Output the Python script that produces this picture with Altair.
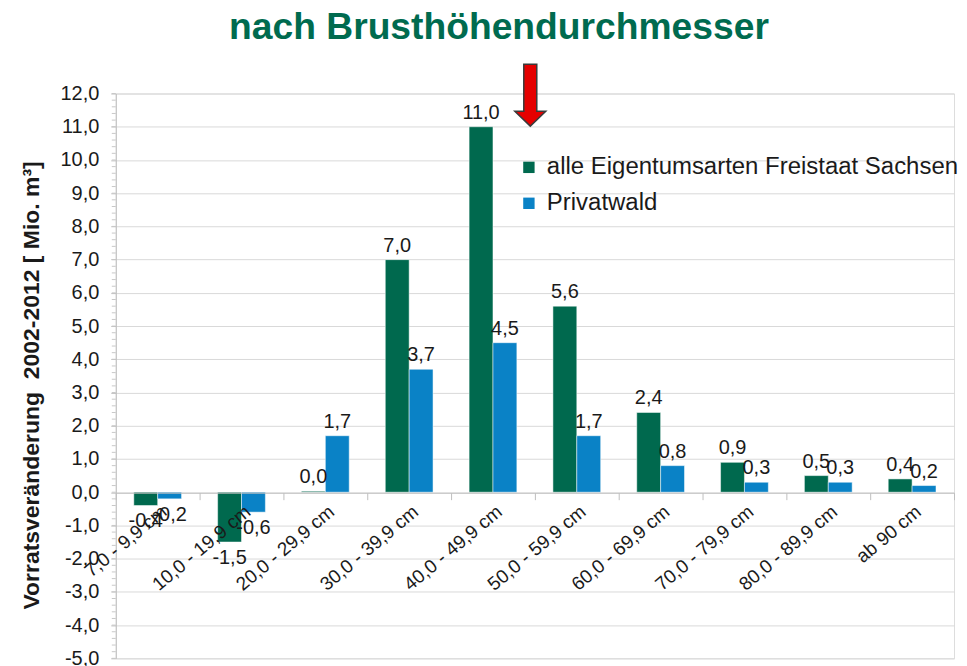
import altair as alt
import pandas as pd

categories = ["7,0 - 9,9 cm", "10,0 - 19,9 cm", "20,0 - 29,9 cm", "30,0 - 39,9 cm",
              "40,0 - 49,9 cm", "50,0 - 59,9 cm", "60,0 - 69,9 cm", "70,0 - 79,9 cm",
              "80,0 - 89,9 cm", "ab 90 cm"]
series = ["alle Eigentumsarten Freistaat Sachsen", "Privatwald"]
alle = [-0.4, -1.5, 0.03, 7.0, 11.0, 5.6, 2.4, 0.9, 0.5, 0.4]
privat = [-0.2, -0.6, 1.7, 3.7, 4.5, 1.7, 0.8, 0.3, 0.3, 0.2]
colors = ["#00694E", "#0A82C6"]
y_ticks = list(range(-5, 13))
minor_ticks = [round(-5 + i * 0.2, 1) for i in range(0, 86)]

arrow_category = ["40,0 - 49,9 cm"]
arrow_series = ["Privatwald"]
arrow_value = [11.95]

rows = []
for c, a, p in zip(categories, alle, privat):
    rows.append({"category": c, "series": series[0], "value": a})
    rows.append({"category": c, "series": series[1], "value": p})
df = pd.DataFrame(rows)
arrow_df = pd.DataFrame({"category": arrow_category, "series": arrow_series, "value": arrow_value})
minor_df = pd.DataFrame({"value": minor_ticks})

FONT = "Liberation Sans"
H = 566
W = 840
fmt = "replace(replace(format(datum.value, '.1f'), '.', ','), '\u2212', '-')"

y_axis = alt.Axis(values=y_ticks, labelExpr=fmt, labelOverlap=False,
                  title="Vorratsveränderung\u00a0 2002-2012 [ Mio. m³]",
                  titleFontSize=23, titleFontWeight="bold", titleFont=FONT,
                  titleColor="#1a1a1a", titlePadding=17, titleY=292,
                  labelFontSize=20, labelFont=FONT, labelColor="#1a1a1a",
                  gridColor="#D9D9D9", domainColor="#BFBFBF", tickColor="#BFBFBF",
                  tickSize=5, labelPadding=12)
x_axis = alt.Axis(title=None, labelAngle=-40, labelFontSize=19, labelColor="#1a1a1a",
                  labelBaseline="middle", labelOffset=6,
                  offset=-round(H * 5 / 17), tickBand="extent", domainColor="#BFBFBF",
                  tickColor="#BFBFBF", tickSize=7, grid=False, zindex=1,
                  labelFont=FONT, labelPadding=9)

x_enc = alt.X("category:N", sort=categories,
              scale=alt.Scale(paddingInner=0, paddingOuter=0), axis=x_axis)
xoff_enc = alt.XOffset("series:N", sort=series, scale=alt.Scale(paddingOuter=0.755, paddingInner=0))
y_scale = alt.Scale(domain=[-5, 12], nice=False)
x_plain = alt.X("category:N", sort=categories, axis=x_axis)
xo_plain = alt.XOffset("series:N", sort=series)
y_plain = alt.Y("value:Q", scale=y_scale, axis=y_axis)

bars = alt.Chart(df).mark_bar(stroke="#ffffff", strokeWidth=0.5).encode(
    x=x_enc,
    xOffset=xoff_enc,
    y=y_plain,
    color=alt.Color("series:N", sort=series, scale=alt.Scale(domain=series, range=colors),
                    legend=alt.Legend(title=None, orient="none", legendX=402, legendY=62,
                                      labelFontSize=24, labelFont=FONT, labelColor="#1a1a1a",
                                      symbolType="square", symbolSize=130, rowPadding=12,
                                      labelOffset=6, labelLimit=0, symbolStrokeWidth=0)),
)

minor = alt.Chart(minor_df).mark_tick(thickness=1, size=4, color="#C8C8C8", opacity=1).encode(
    y=y_plain, x=alt.value(-2))

pos_text = alt.Chart(df).transform_filter("datum.value >= 0").transform_calculate(
    lbl="replace(format(datum.value, '.1f'), '.', ',')").mark_text(
    baseline="alphabetic", dy=-8, fontSize=20, font=FONT, color="#1a1a1a").encode(
    x=x_plain, xOffset=xo_plain, y=y_plain, text="lbl:N")
neg_text = alt.Chart(df).transform_filter("datum.value < 0").transform_calculate(
    lbl="'-' + replace(format(-datum.value, '.1f'), '.', ',')").mark_text(
    baseline="top", dy=6, fontSize=20, font=FONT, color="#1a1a1a").encode(
    x=x_plain, xOffset=xo_plain, y=y_plain, text="lbl:N")

arrow_path = ("M 0.61 -1 L 1.03 -1 L 1.03 0.52 L 1.32 0.52 L 0.82 1 "
              "L 0.32 0.52 L 0.61 0.52 Z")
arrow = alt.Chart(arrow_df).mark_point(shape=arrow_path, size=3844, filled=True, fill="#E50000",
                                       stroke="#3a3a3a", strokeWidth=1.5, opacity=1).encode(
    x=x_plain, xOffset=xo_plain, y=y_plain)

chart = alt.layer(bars, minor, pos_text, neg_text, arrow).properties(
    width=W, height=H,
    padding={"left": 12, "top": 0, "right": 0, "bottom": 0},
    title=alt.TitleParams("nach Brusthöhendurchmesser", fontSize=37.3, fontWeight="bold",
                          color="#006B4F", font=FONT, dx=-36, offset=7, dy=-7),
).configure_view(stroke=None).configure(font=FONT).configure_axisY(labelOverlap=False)

chart.save("out.html", embed_options={"renderer": "svg", "actions": False})
